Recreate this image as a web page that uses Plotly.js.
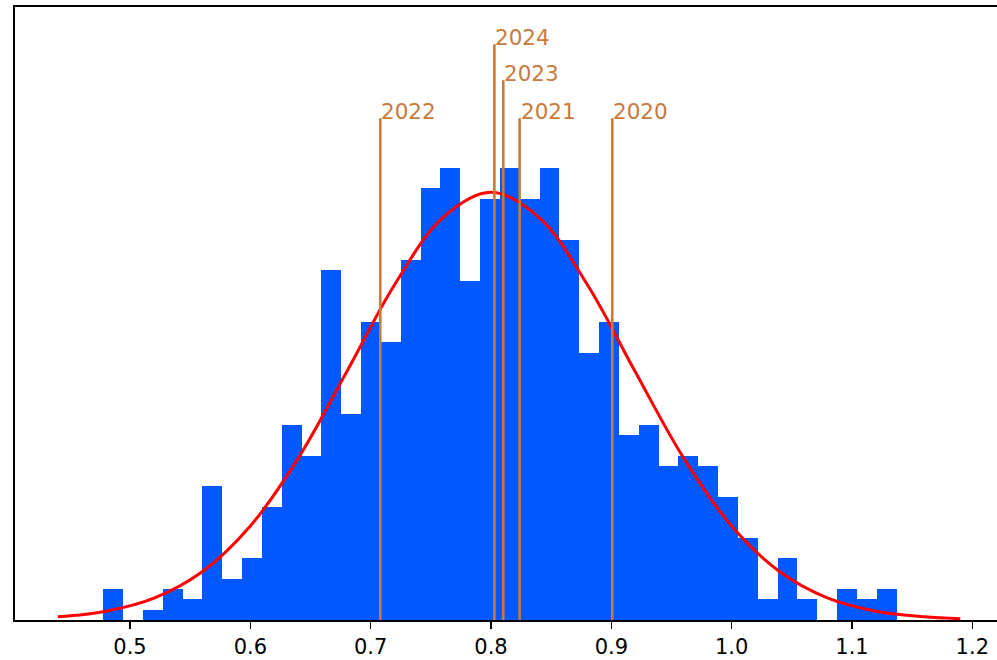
<!DOCTYPE html>
<html>
<head>
<meta charset="utf-8">
<script src="https://cdn.plot.ly/plotly-3.0.1.min.js"></script>
<style>
  html, body { margin: 0; padding: 0; overflow: hidden; background: #ffffff; }
  #chart { width: 997px; height: 660px; }
</style>
</head>
<body>
<div id="chart"></div>
<script>
// Histogram: 40 bins, left edge of first bin and bin width (data units)
const binLeft = 0.4778;
const binWidth = 0.016483;
const counts = [3, 0, 1, 3, 2, 13, 4, 6, 11, 19,
                16, 34, 20, 29, 27, 35, 42, 44, 33, 41,
                44, 41, 44, 37, 26, 29, 18, 19, 15, 16,
                15, 12, 8, 2, 6, 2, 0, 3, 2, 3];

// Fitted normal curve (in count units)
const curveX = [0.44, 0.48, 0.52, 0.56, 0.60, 0.64, 0.68, 0.72, 0.76, 0.80,
                0.84, 0.88, 0.92, 0.96, 1.00, 1.04, 1.08, 1.12, 1.16, 1.19];
const curveY = [0.31, 0.86, 2.13, 4.69, 9.14, 15.77, 24.12, 32.64, 39.15, 41.6,
                39.15, 32.64, 24.12, 15.77, 9.14, 4.69, 2.13, 0.86, 0.31, 0.13];

// Year markers
const years = ['2022', '2024', '2023', '2021', '2020'];
const yearX = [0.7080, 0.8028, 0.8102, 0.8238, 0.9008];
const yearTop = [48.8, 56.0, 52.5, 48.8, 48.8];

const tickVals = [0.5, 0.6, 0.7, 0.8, 0.9, 1.0, 1.1, 1.2];
const tickText = ['0.5', '0.6', '0.7', '0.8', '0.9', '1.0', '1.1', '1.2'];

const lineColor = '#c97a3b';
const binCenters = counts.map((_, i) => binLeft + binWidth * (i + 0.5));

const traces = [];
traces.push({
  type: 'bar',
  x: binCenters,
  y: counts,
  width: binWidth,
  marker: { color: '#0058ff', line: { width: 0 } },
  hoverinfo: 'x+y',
  showlegend: false
});
traces.push({
  type: 'scatter',
  mode: 'lines',
  x: curveX,
  y: curveY,
  line: { color: '#ff0000', width: 3, shape: 'spline', smoothing: 1.0 },
  showlegend: false
});
years.forEach((yr, i) => {
  traces.push({
    type: 'scatter',
    mode: 'lines',
    x: [yearX[i], yearX[i]],
    y: [0, yearTop[i]],
    line: { color: lineColor, width: 2.6 },
    name: yr,
    showlegend: false
  });
});

const annotations = years.map((yr, i) => ({
  x: yearX[i],
  y: yearTop[i],
  xref: 'x',
  yref: 'y',
  text: yr,
  showarrow: false,
  xanchor: 'left',
  yanchor: 'bottom',
  xshift: -1,
  yshift: -8,
  font: { family: 'DejaVu Sans', size: 21.5, color: lineColor }
}));

const layout = {
  width: 997,
  height: 660,
  margin: { l: 15, r: 0, t: 7, b: 40, pad: 0 },
  paper_bgcolor: '#ffffff',
  plot_bgcolor: '#ffffff',
  bargap: 0,
  showlegend: false,
  font: { family: 'DejaVu Sans', size: 21, color: '#000000' },
  xaxis: {
    range: [0.40443, 1.22051],
    tickvals: tickVals,
    ticktext: tickText,
    ticks: 'outside',
    ticklen: 7,
    tickwidth: 1.6,
    tickcolor: '#000000',
    showline: true,
    linecolor: '#000000',
    linewidth: 1.6,
    mirror: true,
    showgrid: false,
    zeroline: false,
    tickfont: { family: 'DejaVu Sans', size: 21, color: '#000000' }
  },
  yaxis: {
    range: [0, 59.63],
    showticklabels: false,
    ticks: '',
    showline: true,
    linecolor: '#000000',
    linewidth: 1.6,
    mirror: false,
    showgrid: false,
    zeroline: false
  },
  annotations: annotations
};

Plotly.newPlot('chart', traces, layout, { displayModeBar: false, staticPlot: true });
</script>
</body>
</html>
